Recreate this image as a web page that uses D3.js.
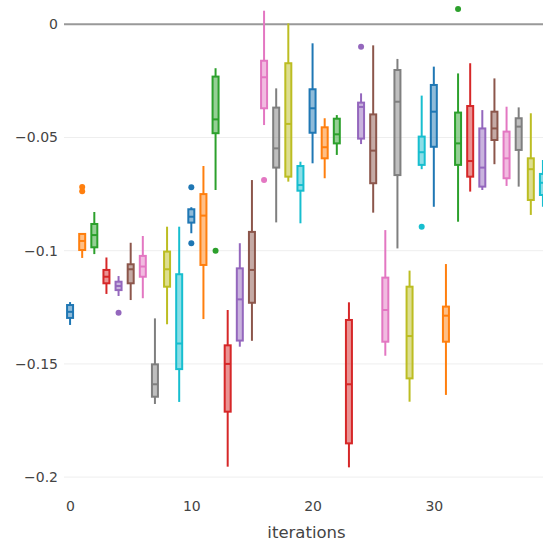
<!DOCTYPE html>
<html>
<head>
<meta charset="utf-8">
<script src="https://cdn.jsdelivr.net/npm/d3@7"></script>
<style>
html,body{margin:0;padding:0;background:#fff;overflow:hidden;}
svg{display:block;font-family:"DejaVu Sans",Verdana,sans-serif;}
</style>
</head>
<body>
<div id="chart"></div>
<script>
// ---- data ----
const iterations = d3.range(0, 40);
const upperFence = [-0.1227,-0.0926,-0.0829,-0.1030,-0.1112,-0.0965,-0.0935,-0.1299,-0.0894,-0.0894,
  -0.0808,-0.0626,-0.0194,-0.1262,-0.0967,-0.0688,0.0060,-0.0283,0.0004,-0.0607,
  -0.0084,-0.0415,-0.0401,-0.1228,-0.0305,-0.0093,-0.0909,-0.0153,-0.1088,-0.0315,
  -0.0187,-0.1059,-0.0217,-0.0172,-0.0379,-0.0239,-0.0364,-0.0367,-0.0393,-0.0599];
const q3 = [-0.1240,-0.0926,-0.0882,-0.1085,-0.1137,-0.1060,-0.1023,-0.1502,-0.1004,-0.1104,
  -0.0817,-0.0750,-0.0231,-0.1418,-0.1078,-0.0917,-0.0161,-0.0368,-0.0172,-0.0626,
  -0.0287,-0.0455,-0.0417,-0.1306,-0.0346,-0.0398,-0.1119,-0.0202,-0.1159,-0.0496,
  -0.0268,-0.1247,-0.0390,-0.0361,-0.0460,-0.0386,-0.0474,-0.0415,-0.0592,-0.0661];
const median = [-0.1270,-0.0957,-0.0931,-0.1115,-0.1156,-0.1082,-0.1070,-0.1590,-0.1082,-0.1410,
  -0.0850,-0.0845,-0.0420,-0.1500,-0.1215,-0.1085,-0.0234,-0.0548,-0.0440,-0.0710,
  -0.0371,-0.0543,-0.0486,-0.1590,-0.0365,-0.0558,-0.1262,-0.0342,-0.1377,-0.0565,
  -0.0386,-0.1287,-0.0526,-0.0604,-0.0633,-0.0460,-0.0592,-0.0452,-0.0640,-0.0700];
const q1 = [-0.1297,-0.0997,-0.0985,-0.1144,-0.1174,-0.1144,-0.1115,-0.1645,-0.1159,-0.1523,
  -0.0876,-0.1063,-0.0481,-0.1711,-0.1397,-0.1230,-0.0371,-0.0633,-0.0673,-0.0735,
  -0.0479,-0.0592,-0.0526,-0.1851,-0.0505,-0.0702,-0.1402,-0.0666,-0.1564,-0.0621,
  -0.0541,-0.1402,-0.0621,-0.0673,-0.0717,-0.0511,-0.0680,-0.0555,-0.0776,-0.0754];
const lowerFence = [-0.1328,-0.1032,-0.1015,-0.1191,-0.1200,-0.1218,-0.1210,-0.1677,-0.1325,-0.1668,
  -0.0923,-0.1302,-0.0732,-0.1954,-0.1424,-0.1398,-0.0445,-0.0875,-0.0695,-0.0879,
  -0.0614,-0.0680,-0.0577,-0.1957,-0.0529,-0.0832,-0.1464,-0.0990,-0.1667,-0.0640,
  -0.0806,-0.1637,-0.0872,-0.0739,-0.0732,-0.0618,-0.0714,-0.0717,-0.0842,-0.0806];
// outliers: [iteration, value]
const outlierIter = [1, 1, 4, 10, 10, 12, 16, 24, 29, 32];
const outlierVal = [-0.0719, -0.0737, -0.1274, -0.0720, -0.0967, -0.1000, -0.0688, -0.0099, -0.0894, 0.0068];
const yTicks = [0, -0.05, -0.1, -0.15, -0.2];
const xTicks = [0, 10, 20, 30];
const palette = ["#1f77b4","#ff7f0e","#2ca02c","#d62728","#9467bd","#8c564b","#e377c2","#7f7f7f","#bcbd22","#17becf"];
const xTitle = "iterations";

// ---- layout ----
const W = 543, H = 540;
const plotL = 64, plotR = 549, plotT = 0, plotB = 490;
const xRange = [-0.5, 39.5];
const yRange = [-0.2057, 0.01073];
const FONT = "'DejaVu Sans',Verdana,sans-serif";

const svg = d3.select("#chart").append("svg").attr("width", W).attr("height", H);
const x = d3.scaleLinear().domain(xRange).range([plotL, plotR]);
const y = d3.scaleLinear().domain(yRange).range([plotB, plotT]);

// grid
svg.append("g").selectAll("line").data(yTicks.filter(d => d !== 0)).join("line")
  .attr("x1", plotL).attr("x2", plotR)
  .attr("y1", d => y(d)).attr("y2", d => y(d))
  .attr("stroke", "#eeeeee").attr("stroke-width", 1);
// zero line
svg.append("line").attr("x1", plotL).attr("x2", plotR)
  .attr("y1", y(0)).attr("y2", y(0))
  .attr("stroke", "#999").attr("stroke-width", 2);

// axes (labels only)
const fmt = v => v === 0 ? "0" : d3.format("")(v).replace("-", "\u2212");
const yAxis = d3.axisLeft(y).tickValues(yTicks).tickSize(0).tickPadding(6).tickFormat(fmt);
const gy = svg.append("g").attr("transform", `translate(${plotL},0)`).call(yAxis);
gy.select(".domain").remove();
gy.selectAll("text").attr("fill", "#444").style("font-size", "14px").style("font-family", FONT);

const xAxis = d3.axisBottom(x).tickValues(xTicks).tickSize(0).tickPadding(11).tickFormat(d3.format("d"));
const gx = svg.append("g").attr("transform", `translate(0,${plotB})`).call(xAxis);
gx.select(".domain").remove();
gx.selectAll("text").attr("fill", "#444").style("font-size", "14px").style("font-family", FONT);

svg.append("text").attr("x", (plotL + plotR) / 2).attr("y", 537.5)
  .attr("text-anchor", "middle").attr("fill", "#444")
  .style("font-size", "16.5px").style("font-family", FONT)
  .text(xTitle);

// boxes
const boxes = iterations.map((it, i) => ({
  it, color: palette[i % palette.length],
  hi: upperFence[i], q3: q3[i], med: median[i], q1: q1[i], lo: lowerFence[i]
}));
const bw = 6;
const g = svg.append("g");
const bg = g.selectAll("g.box").data(boxes).join("g").attr("class", "box");
bg.append("line").attr("x1", d => x(d.it)).attr("x2", d => x(d.it))
  .attr("y1", d => y(d.hi)).attr("y2", d => y(d.q3))
  .attr("stroke", d => d.color).attr("stroke-width", 2);
bg.append("line").attr("x1", d => x(d.it)).attr("x2", d => x(d.it))
  .attr("y1", d => y(d.q1)).attr("y2", d => y(d.lo))
  .attr("stroke", d => d.color).attr("stroke-width", 2);
bg.append("rect").attr("x", d => x(d.it) - bw / 2).attr("width", bw)
  .attr("y", d => y(d.q3)).attr("height", d => Math.max(0.5, y(d.q1) - y(d.q3)))
  .attr("fill", d => d.color).attr("fill-opacity", 0.5)
  .attr("stroke", d => d.color).attr("stroke-width", 2);
bg.append("line").attr("x1", d => x(d.it) - bw / 2).attr("x2", d => x(d.it) + bw / 2)
  .attr("y1", d => y(d.med)).attr("y2", d => y(d.med))
  .attr("stroke", d => d.color).attr("stroke-width", 2);

// outliers
svg.append("g").selectAll("circle").data(outlierIter.map((it, i) => ({it, v: outlierVal[i]}))).join("circle")
  .attr("cx", d => x(d.it)).attr("cy", d => y(d.v)).attr("r", 3)
  .attr("fill", d => palette[iterations.indexOf(d.it) % palette.length]);
</script>
</body>
</html>
